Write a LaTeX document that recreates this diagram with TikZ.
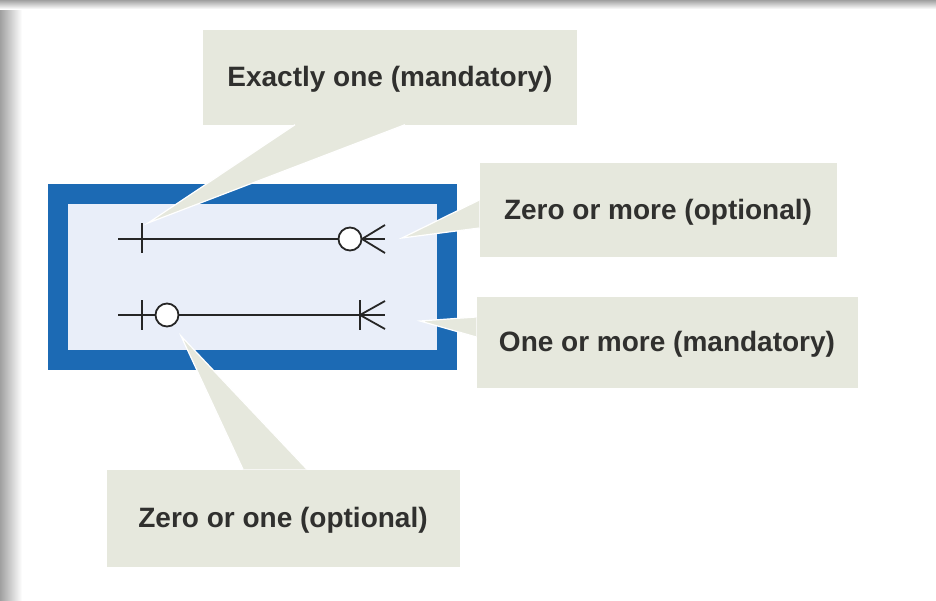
\documentclass[tikz,border=0pt]{standalone}
\usepackage{fontspec}
\setmainfont{Liberation Sans}
\usetikzlibrary{positioning}
\definecolor{frameblue}{RGB}{28,106,180}
\definecolor{paleblue}{RGB}{233,238,249}
\definecolor{callbg}{RGB}{230,232,221}
\definecolor{inkgray}{RGB}{48,48,46}
\definecolor{shade}{RGB}{160,160,160}

\begin{document}
\begin{tikzpicture}[x=1pt, y=-1pt,
  callout/.style={fill=callbg, draw=none, text=inkgray, inner sep=0pt, align=center,
                  font=\bfseries\fontsize{28}{32}\selectfont},
  tail/.style={fill=callbg},
  tailedge/.style={draw=white, line width=1.2pt},
  notation/.style={draw=black!85, line width=1.8pt},
  ring/.style={circle, draw=black!85, line width=1.8pt, fill=white,
               minimum size=23pt, inner sep=0pt}]
  % page with its shadow
  \fill[white] (0,0) rectangle (936,600);
  \shade[left color=shade, right color=white] (0,0) rectangle (22,600);
  \shade[top color=shade, bottom color=white] (0,0) rectangle (936,9);
  \useasboundingbox (0,0) rectangle (936,600);

  % the entity frame
  \node[draw=frameblue, line width=20pt, fill=paleblue, minimum width=389pt,
        minimum height=166pt, inner sep=0pt] (entity) at (252,277) {};

  % the four labels
  \foreach \name/\cx/\cy/\w/\h/\lab in {
    exact/390/77/374/95/Exactly one (mandatory),
    zmany/658/210/357/94/Zero or more (optional),
    omany/667/342/381/91/One or more (mandatory),
    zone/283/518/353/97/Zero or one (optional)} {
      \node[callout, minimum width=\w pt, minimum height=\h pt,
            text depth=2pt] (\name) at (\cx,\cy) {\lab};
  }

  % pointers
  \coordinate (exact tip) at (148,223);
  \coordinate (zmany tip) at (402,238);
  \coordinate (omany tip) at (420,321);
  \coordinate (zone tip) at (181,336);
  \fill[tail] (exact tip) -- ([xshift=-95pt]exact.south) -- ([xshift=15pt]exact.south) -- cycle;
  \draw[tailedge] ([xshift=-95pt]exact.south) -- (exact tip) -- ([xshift=15pt]exact.south);
  \fill[tail] (zmany tip) -- ([yshift=10pt]zmany.west) -- ([yshift=-18pt]zmany.west) -- cycle;
  \draw[tailedge] ([yshift=10pt]zmany.west) -- (zmany tip) -- ([yshift=-18pt]zmany.west);
  \fill[tail] (omany tip) -- ([yshift=25pt]omany.west) -- ([yshift=5pt]omany.west) -- cycle;
  \draw[tailedge] ([yshift=25pt]omany.west) -- (omany tip) -- ([yshift=5pt]omany.west);
  \fill[tail] (zone tip) -- ([xshift=-40pt]zone.north) -- ([xshift=24pt]zone.north) -- cycle;
  \draw[tailedge] ([xshift=-40pt]zone.north) -- (zone tip) -- ([xshift=24pt]zone.north);

  % notation, upper line
  \coordinate (up west) at (118,239);
  \coordinate (up east) at (385,239);
  \draw[notation] (up west) -- (up east);
  \draw[notation] (142,223) -- (142,253);
  \draw[notation] (362,239) -- (385,225) (362,239) -- (385,253);
  \node[ring] (up ring) at (350,239) {};

  % notation, lower line
  \coordinate (low west) at (118,315);
  \coordinate (low east) at (385,315);
  \draw[notation] (low west) -- (low east);
  \draw[notation] (142,300) -- (142,330);
  \draw[notation] (360,300) -- (360,330);
  \draw[notation] (360,315) -- (385,301) (360,315) -- (385,329);
  \node[ring] (low ring) at (167,315) {};
\end{tikzpicture}
\end{document}
